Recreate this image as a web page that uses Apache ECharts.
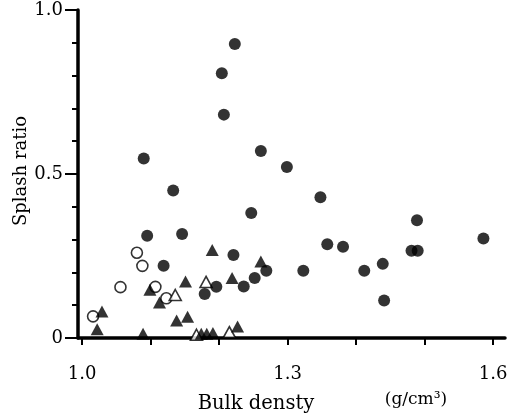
<!DOCTYPE html>
<html>
<head>
<meta charset="utf-8">
<script src="https://cdn.jsdelivr.net/npm/echarts@6/dist/echarts.min.js"></script>
<style>html,body{margin:0;padding:0;background:#fff}#c{width:517px;height:417px}</style>
</head>
<body>
<div id="c"></div>
<script>
// Bulk density (g/cm3) and splash ratio, per marker type
var filledCircleX = [1.090,1.133,1.095,1.146,1.119,1.223,1.204,1.207,1.261,1.299,1.247,1.221,1.196,1.179,1.236,1.252,1.269,1.323,1.348,1.358,1.381,1.412,1.439,1.441,1.481,1.490,1.489,1.586];
var filledCircleY = [0.547,0.450,0.312,0.317,0.220,0.896,0.807,0.681,0.570,0.521,0.381,0.253,0.156,0.134,0.157,0.183,0.205,0.205,0.429,0.286,0.278,0.205,0.226,0.114,0.266,0.266,0.359,0.303];
var openCircleX = [1.080,1.088,1.056,1.016,1.123,1.107];
var openCircleY = [0.260,0.220,0.155,0.066,0.121,0.156];
var filledTriX = [1.190,1.261,1.151,1.219,1.029,1.022,1.113,1.099,1.138,1.154,1.089,1.227,1.174,1.182,1.191];
var filledTriY = [0.268,0.233,0.172,0.183,0.081,0.027,0.108,0.147,0.053,0.065,0.013,0.035,0.013,0.013,0.015];
var openTriX = [1.181,1.136,1.215,1.167];
var openTriY = [0.171,0.131,0.018,0.010];

var xTicks = [1.0,1.1,1.2,1.3,1.4,1.5,1.6];
var xTickLabels = [1.0,1.3,1.6];
var yLabelText = 'Splash ratio';
var xLabelText = 'Bulk densty';
var unitText = '(g/cm³)';

function pairs(xs, ys){ return xs.map(function(x,i){ return [x, ys[i]]; }); }

var FONT = 'DejaVu Serif';
var chart = echarts.init(document.getElementById('c'));
chart.setOption({
  animation: false,
  backgroundColor: '#fff',
  grid: {left: 78, right: 12, top: 10, bottom: 79, containLabel: false},
  xAxis: {
    type: 'value', min: 0.994, max: 1.6175,
    axisLine: {show: true, lineStyle: {color: '#000', width: 3.5}},
    axisTick: {show: true, customValues: xTicks, length: 7, lineStyle: {color: '#000', width: 2}},
    axisLabel: {customValues: xTickLabels, formatter: function(v){ return v.toFixed(1); }, margin: 27, fontSize: 18, fontFamily: FONT, color: '#000'},
    splitLine: {show: false}
  },
  yAxis: {
    type: 'value', min: 0, max: 1, interval: 0.5,
    axisLine: {show: true, lineStyle: {color: '#000', width: 3.5}},
    axisTick: {show: true, length: 13, lineStyle: {color: '#000', width: 2}},
    minorTick: {show: true, splitNumber: 5, length: 6, lineStyle: {color: '#000', width: 2}},
    axisLabel: {formatter: function(v){ return v === 0 ? '0' : v.toFixed(1); }, margin: 15, fontSize: 18, fontFamily: FONT, color: '#000'},
    splitLine: {show: false}, minorSplitLine: {show: false}
  },
  graphic: [
    {type: 'text', x: 21, y: 171, rotation: Math.PI/2, style: {text: yLabelText, fontSize: 18, fontFamily: FONT, fill: '#000', align: 'center', verticalAlign: 'middle'}},
    {type: 'text', x: 256, y: 404, style: {text: xLabelText, fontSize: 19.5, fontFamily: FONT, fill: '#000', align: 'center', verticalAlign: 'middle'}},
    {type: 'text', x: 416, y: 400, style: {text: unitText, fontSize: 17, fontFamily: FONT, fill: '#000', align: 'center', verticalAlign: 'middle'}}
  ],
  series: [
    {type: 'scatter', data: pairs(openCircleX, openCircleY), symbol: 'circle', symbolSize: 11, itemStyle: {color: '#fff', borderColor: '#000', borderWidth: 1.6}, z: 2},
    {type: 'scatter', data: pairs(openTriX, openTriY), symbol: 'triangle', symbolSize: [12, 11], itemStyle: {color: '#fff', borderColor: '#000', borderWidth: 1.6}, z: 2},
    {type: 'scatter', data: pairs(filledTriX, filledTriY), symbol: 'triangle', symbolSize: [13, 12], itemStyle: {color: '#000'}, z: 3},
    {type: 'scatter', data: pairs(filledCircleX, filledCircleY), symbol: 'circle', symbolSize: 12, itemStyle: {color: '#000'}, z: 3}
  ]
});
</script>
</body>
</html>
